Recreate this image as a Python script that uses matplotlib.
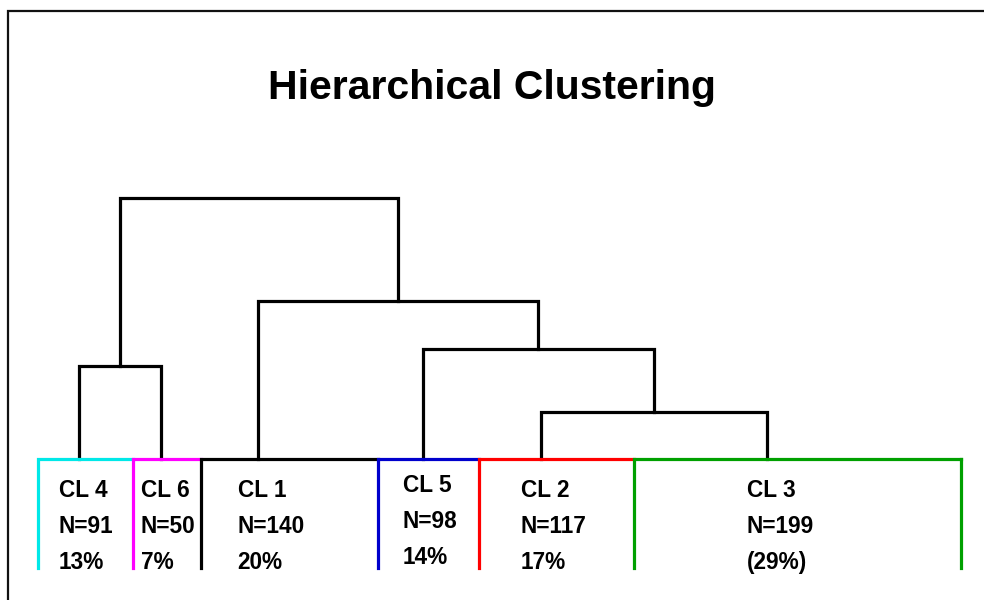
import matplotlib
matplotlib.use("Agg")
import matplotlib.pyplot as plt
from matplotlib.patches import Rectangle

# ---------------- data ----------------
clusters = ["CL 4", "CL 6", "CL 1", "CL 5", "CL 2", "CL 3"]
sizes = [91, 50, 140, 98, 117, 199]
pct_labels = ["13%", "7%", "20%", "14%", "17%", "(29%)"]
# linkage: leaves 0..5, new nodes 6.. in order of merges
merge_left = [0, 4, 3, 2, 6]
merge_right = [1, 5, 7, 8, 9]
merge_height = [93.3, 47.3, 110.0, 158.0, 261.3]

# ---------------- layout / style ----------------
leaf_x = [78.7, 161.0, 257.7, 422.7, 540.7, 766.7]        # stem positions
box_edges = [37.7, 132.7, 201.0, 377.7, 479.0, 634.3, 960.7]
box_colors = ["#00e8e8", "#ff00ff", "#000000", "#0000cc", "#ff0000", "#00a000"]
BOX_DEPTH = 109.0
row_base = [-38, -74, -110]
row_shift = [0, 0, 0, 5, 0, 0]
LW = 2.3

fig = plt.figure(figsize=(9.84, 6.0), dpi=100)
ax = fig.add_axes([0, 0, 1, 1])
ax.set_xlim(0, 984)
ax.set_ylim(-141, 459)
ax.axis("off")

# outer frame (only top/left visible)
fig.patches.append(Rectangle((8.2 / 984, -0.05), 1.2, 1.05 - 11.0 / 600,
                             transform=fig.transFigure, fill=False,
                             edgecolor="#111111", linewidth=1.6))

# dendrogram
node_x = list(leaf_x)
node_h = [0.0] * len(leaf_x)
for a, b, h in zip(merge_left, merge_right, merge_height):
    xa, xb = node_x[a], node_x[b]
    ax.plot([xa, xa, xb, xb], [node_h[a], h, h, node_h[b]],
            color="black", lw=LW, solid_joinstyle="miter",
            solid_capstyle="projecting", zorder=2)
    node_x.append((xa + xb) / 2)
    node_h.append(h)

# cluster boxes
n = len(clusters)
for i in range(n):
    x0, x1 = box_edges[i], box_edges[i + 1]
    c = box_colors[i]
    ax.plot([x0, x0, x1], [-BOX_DEPTH, 0, 0], color=c, lw=LW,
            solid_joinstyle="miter", zorder=3)
    if i == n - 1:
        ax.plot([x1, x1], [0, -BOX_DEPTH], color=c, lw=LW, zorder=3)

# labels
lab_font = dict(family=["Liberation Sans Narrow", "Liberation Sans", "DejaVu Sans"],
                fontweight="bold", fontsize=16.3, color="black")
for i in range(n):
    tx = leaf_x[i] - 20
    lines = [clusters[i], "N=%d" % sizes[i], pct_labels[i]]
    for k, s in enumerate(lines):
        ax.text(tx, row_base[k] + row_shift[i], s, ha="left", va="baseline",
                **lab_font)

ax.text(492, 459 - 99, "Hierarchical Clustering", ha="center", va="baseline",
        family=["Liberation Sans", "DejaVu Sans"], fontweight="bold",
        fontsize=29.5, color="black")

fig.savefig("out.png", dpi=100)
